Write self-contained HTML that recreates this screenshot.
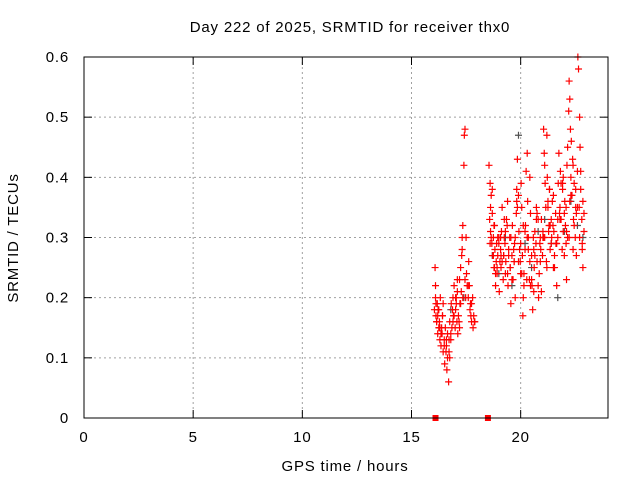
<!DOCTYPE html>
<html><head><meta charset="utf-8"><style>
body{margin:0;background:#fff;font-family:"Liberation Sans",sans-serif}
svg text{font-family:"Liberation Sans",sans-serif;font-size:15px;letter-spacing:0.8px;fill:#000}
</style></head><body>
<svg id="c" width="640" height="480" xmlns="http://www.w3.org/2000/svg">
<text x="350" y="32" text-anchor="middle">Day 222 of 2025, SRMTID for receiver thx0</text>
<text x="345" y="471" text-anchor="middle">GPS time / hours</text>
<text x="0" y="0" text-anchor="middle" transform="translate(18,238) rotate(-90)">SRMTID / TECUs</text>
<g id="grid"></g><g id="marks"></g><g id="axes"></g>
</svg>
<script>
const xTicks=[0,5,10,15,20];
const yTicks=[0,0.1,0.2,0.3,0.4,0.5,0.6];
const yTickLabels=["0","0.1","0.2","0.3","0.4","0.5","0.6"];
const redHours=[16.05,16.08,16.1,16.12,16.15,16.18,16.2,16.22,16.25,16.28,16.3,16.32,16.35,16.38,16.4,16.42,16.45,16.5,16.52,16.55,16.6,16.62,16.65,16.7,16.72,16.75,16.8,16.82,16.85,16.9,16.92,16.95,17.0,17.02,17.05,17.08,17.1,17.12,17.15,17.2,17.22,17.25,17.28,17.3,17.32,17.35,17.4,17.42,17.45,17.5,17.52,17.55,17.6,17.62,17.65,17.7,17.72,17.75,17.8,17.82,17.85,17.9,
18.55,18.58,18.6,18.62,18.65,18.68,18.7,18.72,18.75,18.78,18.8,18.82,18.85,18.88,18.9,18.92,18.95,19.0,19.02,19.05,19.08,19.1,19.12,19.15,19.2,19.22,19.25,19.28,19.3,19.32,19.35,19.4,19.42,19.45,19.5,19.52,19.55,19.6,19.62,19.65,19.7,19.72,19.75,19.8,19.82,19.85,19.9,19.92,19.95,20.0,20.02,20.05,20.08,20.1,20.12,20.15,20.2,20.22,20.25,20.3,20.32,20.35,20.4,20.42,20.45,20.5,20.52,20.55,20.6,20.62,20.65,20.7,20.72,20.75,20.8,20.82,20.85,20.9,20.92,20.95,
21.0,21.02,21.05,21.08,21.1,21.12,21.15,21.2,21.22,21.25,21.28,21.3,21.32,21.35,21.4,21.42,21.45,21.5,21.52,21.55,21.6,21.62,21.65,21.7,21.72,21.75,21.8,21.82,21.85,21.9,21.92,21.95,22.0,22.02,22.05,22.08,22.1,22.12,22.15,22.2,22.22,22.25,22.28,22.3,22.32,22.35,22.4,22.42,22.45,22.5,22.52,22.55,22.6,22.62,22.65,22.7,22.72,22.75,22.8,22.82,22.85,22.9,
16.1,16.2,16.3,16.45,16.6,16.75,16.9,17.05,17.2,17.35,18.6,18.7,18.8,18.95,19.1,19.25,19.4,19.55,19.7,19.85,20.0,20.15,20.3,20.45,20.6,20.75,20.9,21.05,21.2,21.35,21.5,21.65,21.8,21.95,22.1,22.25,22.4,22.55,22.7,22.85,
16.15,16.25,16.35,16.5,16.65,16.8,16.95,17.1,17.25,17.45,17.6,17.75,17.88,18.65,18.75,18.85,19.0,19.15,19.3,19.45,19.6,19.75,19.9,20.05,20.2,20.35,20.5,20.65,20.8,20.95,21.1,21.25,21.4,21.55,21.7,21.85,22.0,22.15,22.3,22.45,22.6,22.75,22.9,
16.12,16.28,16.42,16.58,16.72,16.88,17.02,17.18,17.32,17.48,17.68,18.62,18.78,18.92,19.08,19.22,19.38,19.52,19.68,19.82,19.98,20.12,20.28,20.42,20.58,20.72,20.88,21.02,21.18,21.32,21.48,21.62,21.78,21.92,22.08,22.22,22.38,22.52,22.68,22.82];
const redValues=[0.18,0.25,0.2,0.17,0.16,0.19,0.14,0.18,0.15,0.16,0.13,0.2,0.12,0.15,0.14,0.17,0.11,0.13,0.09,0.15,0.12,0.08,0.14,0.06,0.11,0.16,0.13,0.19,0.15,0.2,0.17,0.22,0.15,0.18,0.2,0.16,0.23,0.14,0.17,0.15,0.19,0.25,0.21,0.27,0.3,0.32,0.42,0.47,0.48,0.3,0.24,0.22,0.2,0.26,0.22,0.19,0.17,0.16,0.2,0.15,0.17,0.16,
0.42,0.33,0.39,0.31,0.37,0.29,0.34,0.27,0.3,0.25,0.32,0.28,0.22,0.26,0.29,0.24,0.27,0.3,0.21,0.26,0.28,0.25,0.31,0.35,0.23,0.27,0.3,0.29,0.24,0.26,0.33,0.36,0.22,0.28,0.3,0.25,0.19,0.27,0.32,0.23,0.26,0.29,0.2,0.34,0.38,0.43,0.37,0.31,0.28,0.24,0.39,0.35,0.27,0.17,0.2,0.22,0.28,0.32,0.41,0.44,0.36,0.3,0.23,0.4,0.34,0.27,0.22,0.18,0.21,0.25,0.31,0.29,0.35,0.26,0.22,0.2,0.24,0.3,0.28,0.33,
0.27,0.31,0.48,0.44,0.42,0.39,0.35,0.47,0.4,0.36,0.31,0.32,0.38,0.28,0.33,0.3,0.36,0.25,0.31,0.27,0.34,0.29,0.22,0.3,0.39,0.44,0.35,0.41,0.33,0.28,0.38,0.31,0.27,0.36,0.32,0.29,0.23,0.42,0.45,0.51,0.56,0.53,0.48,0.4,0.46,0.37,0.42,0.33,0.39,0.3,0.35,0.27,0.41,0.6,0.58,0.5,0.45,0.38,0.33,0.29,0.25,0.31,
0.22,0.17,0.15,0.19,0.13,0.1,0.16,0.19,0.23,0.2,0.29,0.38,0.25,0.3,0.27,0.33,0.24,0.3,0.26,0.35,0.29,0.24,0.3,0.22,0.28,0.34,0.26,0.3,0.25,0.32,0.37,0.29,0.33,0.4,0.31,0.36,0.28,0.34,0.3,0.36,
0.16,0.18,0.14,0.12,0.1,0.14,0.17,0.21,0.19,0.23,0.22,0.19,0.16,0.3,0.27,0.24,0.29,0.26,0.31,0.27,0.23,0.3,0.26,0.24,0.31,0.28,0.23,0.27,0.33,0.21,0.3,0.35,0.29,0.25,0.33,0.39,0.34,0.3,0.37,0.32,0.35,0.41,0.34,
0.19,0.15,0.17,0.11,0.13,0.18,0.2,0.16,0.28,0.2,0.18,0.35,0.32,0.25,0.3,0.27,0.32,0.25,0.28,0.36,0.26,0.32,0.23,0.26,0.3,0.33,0.29,0.3,0.26,0.38,0.32,0.29,0.34,0.39,0.35,0.3,0.43,0.38,0.35,0.28];
const grayHours=[16.3,16.8,17.4,18.7,19.0,19.3,19.6,19.9,20.2,20.5,20.8,21.1,21.4,21.7,22.0,22.3,22.6,22.85];
const grayValues=[0.15,0.18,0.2,0.27,0.24,0.3,0.22,0.47,0.29,0.25,0.31,0.33,0.29,0.2,0.31,0.36,0.32,0.3];
const zeroHours=[16.1,18.5];
const L=84,R=608,T=57,B=418;
const xs=h=>L+(R-L)*h/24, ys=v=>B-(B-T)*v/0.6;
const NS="http://www.w3.org/2000/svg";
function mk(t,a,p){const e=document.createElementNS(NS,t);for(const k in a)e.setAttribute(k,a[k]);p.appendChild(e);return e;}
const grid=document.getElementById('grid'),axes=document.getElementById('axes'),marks=document.getElementById('marks');
xTicks.forEach(t=>{const x=xs(t);
 if(t>0){const g=mk('line',{x1:x,x2:x,y1:T,y2:B,stroke:'#a0a0a0','stroke-dasharray':'2,3'},grid);
 }
 mk('line',{x1:x,x2:x,y1:B,y2:B-8,stroke:'#000'},axes);mk('line',{x1:x,x2:x,y1:T,y2:T+8,stroke:'#000'},axes);
 const tx=mk('text',{x:x,y:B+24,'text-anchor':'middle'},axes);tx.textContent=t;
 });
yTicks.forEach((t,i)=>{const y=ys(t);
 if(t>0&&t<0.6){const g=mk('line',{x1:L,x2:R,y1:y,y2:y,stroke:'#a0a0a0','stroke-dasharray':'2,3'},grid);
 }
 mk('line',{x1:L,x2:L+8,y1:y,y2:y,stroke:'#000'},axes);mk('line',{x1:R,x2:R-8,y1:y,y2:y,stroke:'#000'},axes);
 const tx=mk('text',{x:L-15,y:y+5,'text-anchor':'end'},axes);tx.textContent=yTickLabels[i];
 });
const fr=mk('rect',{x:L,y:T,width:R-L,height:B-T,fill:'none',stroke:'#000'},axes);

function plus(x,y,c){const p=mk('path',{d:`M${x-3.5},${y}h7M${x},${y-3.5}v7`,stroke:c,'stroke-width':1.2},marks);return p;}
grayHours.forEach((h,i)=>{const p=plus(xs(h),ys(grayValues[i]),'#505050');
 });
redHours.forEach((h,i)=>{const p=plus(xs(h),ys(redValues[i]),'#ff0000');
 });
zeroHours.forEach(h=>{const r=mk('rect',{x:xs(h)-3,y:B-3,width:6,height:6,fill:'#ff0000'},marks);
 });
</script>
</body></html>
